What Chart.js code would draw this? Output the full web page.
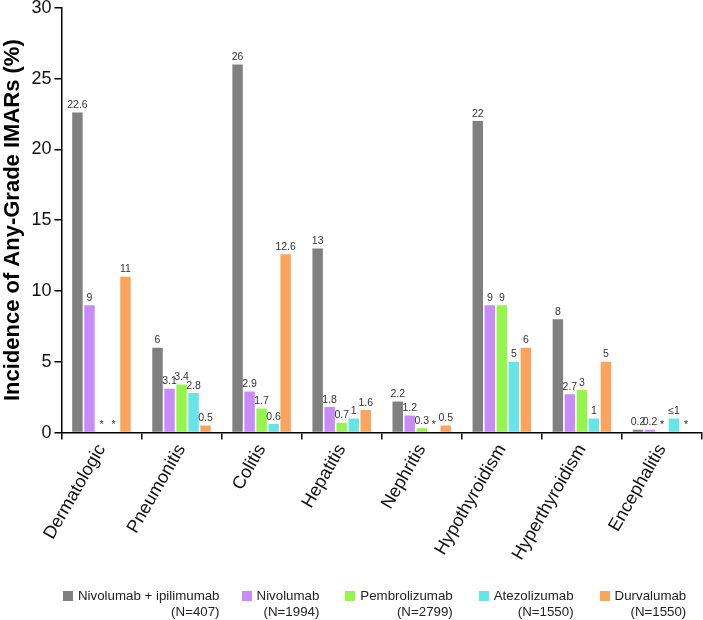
<!DOCTYPE html>
<html lang="en">

<head>
    <meta charset="UTF-8">
    <title>Incidence of Any-Grade IMARs</title>
    <script src="https://cdn.jsdelivr.net/npm/chart.js"></script>
    <style>
        body {
            margin: 0;
            padding: 0;
            background: #fff;
            font-family: "Liberation Sans", Arial, sans-serif;
            overflow: hidden;
        }

        #wrap {
            position: relative;
            width: 703px;
            height: 620px;
            overflow: hidden;
        }

        #chart {
            position: absolute;
            left: 0;
            top: -6px;
        }

        #legend {
            position: absolute;
            left: 63px;
            top: 588px;
            width: 640px;
            display: flex;
            font-size: 13.3px;
            color: #222;
            line-height: 16px;
            white-space: nowrap;
        }

        .item {
            display: flex;
            flex-shrink: 0;
            margin-right: 26px;
        }

        .item:first-child {
            margin-right: 22px;
        }

        .swatch {
            width: 10px;
            height: 10px;
            flex-shrink: 0;
            margin: 3px 5px 0 0;
        }

        .txt {
            text-align: right;
        }
    </style>
</head>

<body>
    <div id="wrap">
        <canvas id="chart" width="703" height="626"></canvas>
        <div id="legend"></div>
    </div>

    <script>
        // categories and values (%), null = not reported (shown as *)
        const categories = ['Dermatologic', 'Pneumonitis', 'Colitis', 'Hepatitis', 'Nephritis', 'Hypothyroidism', 'Hyperthyroidism', 'Encephalitis'];
        const nivoIpi = [22.6, 6, 26, 13, 2.2, 22, 8, 0.2];
        const nivo = [9, 3.1, 2.9, 1.8, 1.2, 9, 2.7, 0.2];
        const pembro = [null, 3.4, 1.7, 0.7, 0.3, 9, 3, null];
        const atezo = [null, 2.8, 0.6, 1, null, 5, 1, 1];
        const durva = [11, 0.5, 12.6, 1.6, 0.5, 6, 5, null];
        // label text that differs from the plain value
        const atezoText = [null, null, null, null, null, null, null, '≤1'];

        const seriesNames = ['Nivolumab + ipilimumab', 'Nivolumab', 'Pembrolizumab', 'Atezolizumab', 'Durvalumab'];
        const seriesN = ['(N=407)', '(N=1994)', '(N=2799)', '(N=1550)', '(N=1550)'];
        const seriesData = [nivoIpi, nivo, pembro, atezo, durva];
        const seriesText = [[], [], [], atezoText, []];
        const yTicks = [0, 5, 10, 15, 20, 25, 30];

        const colors = ['#808080', '#c98bf9', '#95f54b', '#66e4e6', '#fca35c'];

        Chart.defaults.font.family = '"Liberation Sans", Arial, sans-serif';
        Chart.defaults.color = '#111';

        // draws the value (or *) above every bar
        const barLabels = {
            id: 'barLabels',
            afterDatasetsDraw(chart) {
                const ctx = chart.ctx;
                const y = chart.scales.y;
                ctx.save();
                ctx.font = '10.5px "Liberation Sans", Arial, sans-serif';
                ctx.fillStyle = '#333';
                ctx.textAlign = 'center';
                ctx.textBaseline = 'bottom';
                chart.data.datasets.forEach(function (ds, di) {
                    const meta = chart.getDatasetMeta(di);
                    meta.data.forEach(function (bar, i) {
                        const v = ds.data[i];
                        let text = v === null ? '*' : String(v);
                        if (seriesText[di][i]) text = seriesText[di][i];
                        const top = y.getPixelForValue(v === null ? 0 : v);
                        ctx.fillText(text, bar.x, top - 2);
                    });
                });
                ctx.restore();
            }
        };

        const ctx = document.getElementById('chart').getContext('2d');
        const chart = new Chart(ctx, {
            type: 'bar',
            data: {
                labels: categories,
                datasets: seriesData.map(function (d, i) {
                    return {
                        label: seriesNames[i],
                        data: d,
                        backgroundColor: colors[i],
                        categoryPercentage: 0.75,
                        barPercentage: 0.87
                    };
                })
            },
            options: {
                responsive: false,
                animation: false,
                layout: { padding: { top: 0, right: 1, bottom: 55, left: 0 } },
                plugins: {
                    legend: { display: false },
                    tooltip: { enabled: false }
                },
                scales: {
                    x: {
                        grid: { display: true, drawOnChartArea: false, offset: true, color: '#000', tickLength: 7, lineWidth: 1.5 },
                        border: { color: '#000', width: 1.5 },
                        ticks: { minRotation: 60, maxRotation: 60, font: { size: 18 }, color: '#111', padding: 1 }
                    },
                    y: {
                        min: 0,
                        max: 30,
                        afterBuildTicks: function (axis) {
                            axis.ticks = yTicks.map(function (v) { return { value: v }; });
                        },
                        grid: { display: true, drawOnChartArea: false, color: '#000', tickLength: 7, lineWidth: 1.5 },
                        border: { color: '#000', width: 1.5 },
                        ticks: { font: { size: 18 }, color: '#111', padding: 3 },
                        title: {
                            display: true,
                            text: 'Incidence of Any-Grade IMARs (%)',
                            font: { size: 22, weight: 'bold' },
                            color: '#000',
                            padding: { top: 0, bottom: 2 }
                        }
                    }
                }
            },
            plugins: [barLabels]
        });

        // legend with the N under each name
        const legend = document.getElementById('legend');
        seriesNames.forEach(function (name, i) {
            const item = document.createElement('div');
            item.className = 'item';
            item.innerHTML = '<div class="swatch" style="background:' + colors[i] + '"></div>' +
                '<div class="txt">' + name + '<br>' + seriesN[i] + '</div>';
            legend.appendChild(item);
        });
    </script>
</body>

</html>
